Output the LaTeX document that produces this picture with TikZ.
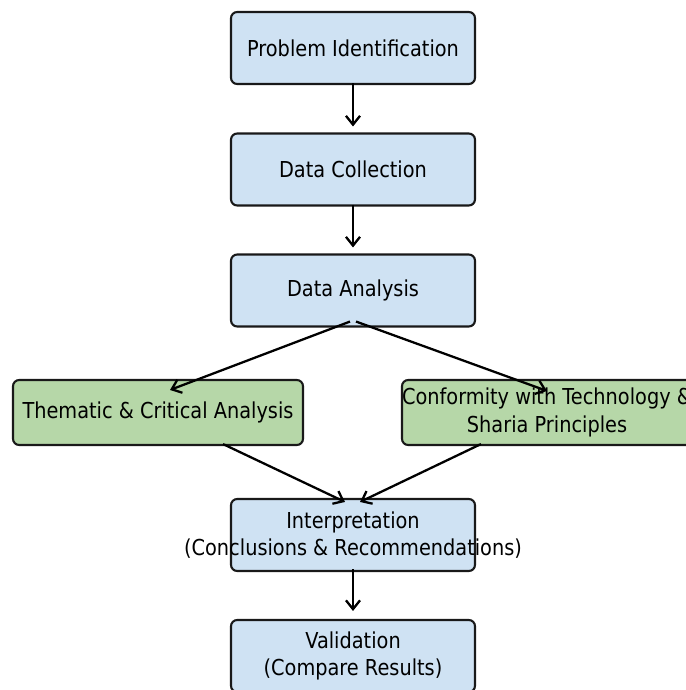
\documentclass[tikz,border=0pt]{standalone}
\usepackage{fontspec}
\setmainfont{DejaVu Sans}[FakeStretch=0.88]
\usepackage{xcolor}
\definecolor{boxblue}{RGB}{207,226,243}
\definecolor{boxgreen}{RGB}{182,215,168}
\definecolor{boxedge}{gray}{.1}
\usetikzlibrary{arrows.meta}
\newcommand{\widthstep}{4.88cm}
\newcommand{\heightstep}{1.44cm}
\newcommand{\widthbranch}{5.8cm}
\newcommand{\heightbranch}{1.3cm}
\newcommand{\steptext}{\fontsize{12.5}{15.5}\selectfont}
\tikzset{
    common/.style={draw=boxedge, rectangle, line width=1.2pt, rounded corners=3.5pt, inner sep=0pt},
    stepbox/.style={common, fill=boxblue, minimum width=\widthstep, minimum height=\heightstep},
    branchbox/.style={common, fill=boxgreen, minimum width=\widthbranch, minimum height=\heightbranch},
    every label/.style={align=center, font=\steptext, inner sep=0pt},
    flow/.style={-{Straight Barb[length=5pt, width=8pt]}, line width=1.3pt}
}
\begin{document}
\begin{tikzpicture}[x=0.02cm, y=-0.02cm]
        \useasboundingbox (0,0) rectangle (686,690);
        \clip (0,0) rectangle (686,690);

        \path
            (353,48) node[stepbox, label={center:{Problem Identification}}] (problem) {}
            ++(0,121.5) node[stepbox, label={center:{Data Collection}}] (collection) {}
            ++(0,121) node[stepbox, label={center:{Data Analysis}}] (analysis) {}
            ++(0,244.5) node[stepbox, label={center:{Interpretation\\(Conclusions \& Recommendations)}}] (interpretation) {}
            ++(0,121) node[stepbox, label={center:{Validation\\(Compare Results)}}] (validation) {};

        \path
            (158,412.5) node[branchbox, label={center:{Thematic \& Critical Analysis}}] (thematic) {}
            ++(389,0) node[branchbox, label={center:{Conformity with Technology \&\\Sharia Principles}}] (conformity) {};

        \path[flow]
          ([shift={(0,-2)}]problem.south) edge ([shift={(0,-6)}]collection.north)
          ([shift={(0,-2)}]collection.south) edge ([shift={(0,-6)}]analysis.north)
          ([shift={(-3,-6)}]analysis.south) edge ([shift={(12,11)}]thematic.north)
          ([shift={(3,-6)}]analysis.south) edge ([shift={(0,12)}]conformity.north)
          ([shift={(65,-2)}]thematic.south) edge ([shift={(-8,4)}]interpretation.north)
          ([shift={(-66,-2)}]conformity.south) edge ([shift={(7,4)}]interpretation.north)
          ([shift={(0,-3)}]interpretation.south) edge ([shift={(0,-8)}]validation.north);

    \end{tikzpicture}
\end{document}
